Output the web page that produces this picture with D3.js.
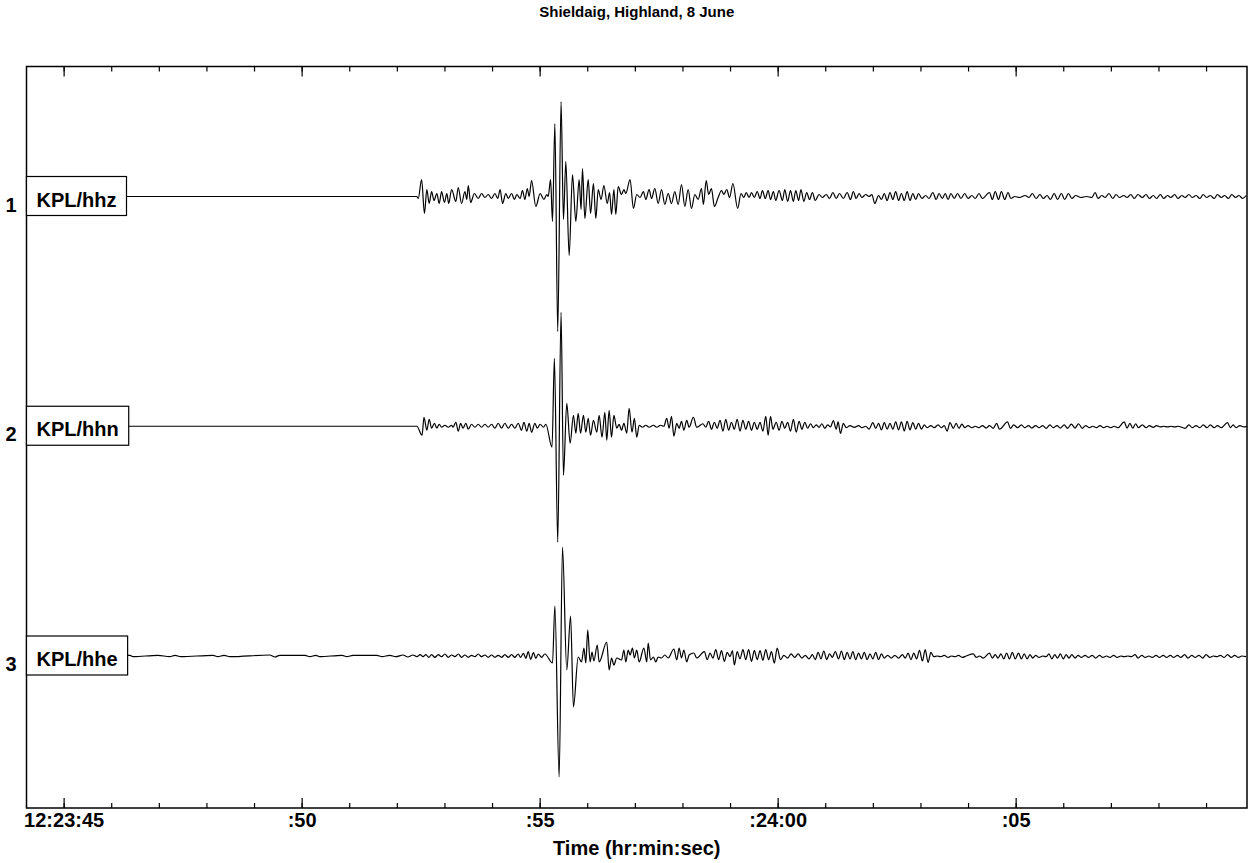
<!DOCTYPE html>
<html>
<head>
<meta charset="utf-8">
<script src="https://cdn.jsdelivr.net/npm/d3@7"></script>
<style>
  body { margin: 0; background: #fff; }
  text { font-family: "Liberation Sans", Arial, sans-serif; font-weight: bold; fill: #000; }
</style>
</head>
<body>
<div id="chart"></div>
<script>
// labels
var title = 'Shieldaig, Highland, 8 June';
var xLabel = 'Time (hr:min:sec)';
var channels = ['KPL/hhz', 'KPL/hhn', 'KPL/hhe'];
var traceNums = ['1', '2', '3'];

// window, seconds after 12:23:52
var tStart = -7.78, tEnd = 17.86;

// traces: [seconds after 12:23:52, relative amplitude], peaks
var hhz = [[-7.7,0],[0.42,0],[0.45,-2],[0.52,17],[0.58,-17],[0.63,7],[0.68,-7],[0.73,5],[0.78,-4],[0.84,3],[0.89,-7],[0.94,5],[1.00,-6],[1.05,3],[1.09,-7],[1.15,7],[1.24,-5],[1.29,9],[1.36,-7],[1.43,5],[1.47,-3],[1.50,11],[1.55,-6],[1.63,3],[1.71,-2],[1.78,3],[1.85,-1],[1.92,2],[1.99,-2],[2.06,3],[2.12,-2],[2.17,7],[2.22,-7],[2.29,3],[2.34,-2],[2.41,3],[2.47,-3],[2.52,2],[2.59,-2],[2.64,6],[2.69,-3],[2.74,8],[2.78,0],[2.83,16],[2.92,-10],[3.01,3],[3.09,-3],[3.15,2],[3.18,0],[3.23,17],[3.27,-25],[3.32,73],[3.38,-135],[3.45,95],[3.50,-23],[3.55,35],[3.62,-59],[3.69,22],[3.76,-25],[3.83,17],[3.87,-13],[3.90,28],[3.95,-22],[4.02,17],[4.07,-17],[4.13,13],[4.18,-22],[4.23,7],[4.29,-3],[4.35,11],[4.42,-7],[4.47,4],[4.51,-18],[4.56,7],[4.60,-18],[4.65,10],[4.72,2],[4.77,7],[4.81,3],[4.90,17],[4.97,-12],[5.04,2],[5.11,-1],[5.18,5],[5.23,-3],[5.30,7],[5.35,-2],[5.42,8],[5.49,-7],[5.56,7],[5.63,-8],[5.70,3],[5.77,-7],[5.84,5],[5.91,-8],[5.98,12],[6.05,-10],[6.12,7],[6.19,-12],[6.26,2],[6.33,-3],[6.40,8],[6.44,-8],[6.50,16],[6.55,2],[6.61,8],[6.67,-10],[6.75,-1],[6.82,6],[6.87,2],[6.93,7],[6.99,-1],[7.06,13],[7.16,-12],[7.23,3],[7.29,-1],[7.34,4],[7.40,-1],[7.45,4],[7.51,-1],[7.57,5],[7.63,-2],[7.68,6],[7.74,-2],[7.80,6],[7.85,-3],[7.91,5],[7.96,-4],[8.03,6],[8.10,-4],[8.15,7],[8.21,-5],[8.27,6],[8.33,-5],[8.38,6],[8.44,-4],[8.49,7],[8.55,-5],[8.61,4],[8.67,-3],[8.73,4],[8.79,-4],[8.87,2],[8.94,-1],[9.02,2],[9.09,-2],[9.16,4],[9.23,-2],[9.30,3],[9.38,-2],[9.46,4],[9.53,-3],[9.59,5],[9.65,-2],[9.71,3],[9.77,-1],[9.85,2],[9.92,0],[9.98,2],[10.04,-7],[10.12,1],[10.18,-3],[10.24,3],[10.30,-4],[10.36,4],[10.42,-3],[10.48,5],[10.54,-4],[10.60,3],[10.66,-4],[10.72,5],[10.78,-4],[10.84,3],[10.90,-3],[10.96,3],[11.03,-2],[11.11,1],[11.18,-2],[11.26,4],[11.33,-3],[11.39,3],[11.46,-2],[11.52,3],[11.58,-3],[11.64,3],[11.71,-2],[11.78,3],[11.85,-2],[11.93,3],[12.00,-2],[12.08,1],[12.15,-2],[12.23,3],[12.30,-2],[12.45,4],[12.51,-3],[12.57,5],[12.64,-3],[12.70,5],[12.77,-3],[12.84,4],[12.90,-2],[12.98,0],[13.08,-1],[13.20,1],[13.28,-1],[13.35,3],[13.43,-2],[13.51,2],[13.58,-2],[13.66,1],[13.73,-3],[13.81,3],[13.88,-3],[13.96,3],[14.03,-3],[14.11,3],[14.18,-2],[14.26,1],[14.37,-1],[14.49,0],[14.60,-1],[14.67,4],[14.73,-2],[14.81,1],[14.88,-1],[14.96,3],[15.04,-2],[15.11,2],[15.18,-1],[15.27,1],[15.34,-1],[15.42,2],[15.49,-2],[15.57,2],[15.66,-1],[15.74,2],[15.81,-2],[15.89,1],[15.96,-2],[16.04,2],[16.11,-2],[16.19,1],[16.26,-1],[16.34,2],[16.41,-2],[16.49,1],[16.56,-1],[16.64,2],[16.71,-1],[16.79,1],[16.87,-2],[16.94,2],[17.01,-1],[17.09,1],[17.17,-2],[17.24,2],[17.32,-1],[17.39,1],[17.47,-2],[17.54,2],[17.62,-1],[17.69,1],[17.77,-2],[17.84,1]];

var hhn = [[-7.7,0],[0.42,0],[0.53,-9],[0.57,9],[0.63,-4],[0.68,7],[0.73,-2],[0.79,3],[0.84,-2],[0.89,2],[0.94,-1],[1.01,1],[1.08,-1],[1.15,1],[1.18,-1],[1.24,4],[1.29,-5],[1.34,3],[1.39,-2],[1.45,3],[1.50,-3],[1.57,2],[1.64,-1],[1.71,2],[1.78,-1],[1.85,2],[1.92,-1],[1.99,2],[2.06,-2],[2.13,3],[2.20,-2],[2.27,3],[2.34,-2],[2.41,2],[2.48,-2],[2.55,3],[2.62,-4],[2.67,4],[2.73,-5],[2.78,3],[2.83,-6],[2.90,3],[2.95,-2],[3.01,2],[3.08,-1],[3.13,2],[3.26,-21],[3.31,68],[3.38,-116],[3.45,114],[3.50,-49],[3.57,23],[3.64,-17],[3.71,11],[3.76,-7],[3.81,13],[3.86,-7],[3.92,11],[3.97,-6],[4.02,8],[4.07,-9],[4.13,6],[4.20,-6],[4.25,11],[4.31,-11],[4.37,14],[4.41,-14],[4.46,16],[4.51,-11],[4.56,11],[4.62,-2],[4.67,2],[4.72,-4],[4.77,3],[4.83,-7],[4.88,18],[4.94,-6],[4.99,8],[5.04,-11],[5.09,1],[5.16,-1],[5.23,1],[5.30,-1],[5.39,1],[5.46,-1],[5.54,1],[5.61,0],[5.67,8],[5.72,-2],[5.77,10],[5.82,-10],[5.88,3],[5.93,-2],[5.98,5],[6.03,-4],[6.09,6],[6.14,-1],[6.23,9],[6.30,-1],[6.43,2.5],[6.49,-1],[6.55,5],[6.61,-3],[6.67,4],[6.73,-2],[6.79,6],[6.85,-5],[6.91,7],[6.97,-4],[7.03,4],[7.09,-3],[7.15,7],[7.21,-5],[7.27,6],[7.33,-3],[7.39,5],[7.45,-4],[7.51,4],[7.57,-3],[7.63,4],[7.69,-5],[7.75,10],[7.80,-9],[7.85,10],[7.90,-3],[7.97,4],[8.03,-4],[8.09,5],[8.15,-2],[8.21,4],[8.27,-5],[8.33,7],[8.39,-6],[8.45,5],[8.51,-3],[8.57,4],[8.63,-2],[8.69,2.5],[8.75,-1.4],[8.81,1.4],[8.87,-1.1],[8.93,2.5],[8.99,-2.1],[9.05,1.4],[9.11,-0.7],[9.17,5.7],[9.23,-2.9],[9.27,4.3],[9.32,-7.2],[9.38,2.9],[9.44,-1.4],[9.52,0.7],[9.61,-1.1],[9.70,0.7],[9.77,-1.4],[9.85,0],[9.92,-2.9],[10.00,3.6],[10.06,-2.1],[10.12,2.9],[10.18,-3.6],[10.24,3.6],[10.30,-2.9],[10.36,2.9],[10.42,-2.9],[10.48,4.3],[10.54,-3.6],[10.60,4.3],[10.66,-4.7],[10.72,5],[10.78,-3.6],[10.84,3.6],[10.90,-2.9],[10.96,2.9],[11.02,-2.9],[11.08,1.4],[11.14,-1.4],[11.22,0.7],[11.29,-1.4],[11.37,1.4],[11.44,-1.4],[11.50,0.7],[11.56,-5],[11.62,3.6],[11.69,-2.1],[11.75,2.9],[11.81,-2.1],[11.87,2.1],[11.93,-1.4],[12.00,0.7],[12.08,-1.4],[12.15,0],[12.23,-1.4],[12.30,0.7],[12.38,-1.8],[12.45,0.7],[12.53,-2.1],[12.60,2.9],[12.66,-2.9],[12.83,4.3],[12.89,-2.1],[12.96,1.4],[13.04,-1.4],[13.12,1.4],[13.19,-1.4],[13.27,0.7],[13.34,-1.8],[13.42,0.7],[13.49,-1.4],[13.57,0.7],[13.64,-2.1],[13.72,1.4],[13.79,-1.4],[13.87,0.7],[13.94,-1.8],[14.02,1.4],[14.09,-2.1],[14.17,2.1],[14.25,-1.8],[14.32,2.5],[14.40,-2.1],[14.47,0.7],[14.55,-1.4],[14.62,0],[14.70,-1.4],[14.77,0.7],[14.85,-1.4],[14.92,0],[15.00,-1.4],[15.07,0],[15.15,-1.4],[15.28,4.3],[15.34,-1.8],[15.40,2.9],[15.46,-1.8],[15.52,2.5],[15.58,-1.4],[15.66,1.4],[15.74,-1.4],[15.81,0.7],[15.89,-1.1],[15.96,0.7],[16.04,-0.7],[16.11,0],[16.19,-0.7],[16.26,0],[16.34,-0.7],[16.41,0],[16.56,-2.1],[16.64,1.4],[16.71,-1.4],[16.79,0.7],[16.87,-1.4],[16.94,1.4],[17.02,-1.4],[17.09,1.4],[17.17,-1.4],[17.24,0.7],[17.32,-1.4],[17.45,3.6],[17.51,-1.4],[17.57,1.4],[17.63,-1.4],[17.71,0.7],[17.79,-0.7],[17.86,0]];

var hhe = [[-7.7,0],[-5.61,0.7],[-5.54,-0.7],[-5.02,0.7],[-4.77,-0.7],[-4.66,0.7],[-4.54,-0.7],[-3.86,0.7],[-3.76,-0.7],[-3.63,0.7],[-3.51,-0.7],[-2.67,1],[-2.56,-1],[-2.46,0.7],[-1.93,0.7],[-1.83,-0.7],[-1.70,0.7],[-1.62,-0.7],[-1.15,0.7],[-1.05,-0.7],[-0.92,0.7],[-0.42,0.7],[-0.31,-0.7],[-0.15,0.7],[-0.02,-0.7],[0.13,1],[0.23,-1],[0.34,1],[0.42,-0.7],[0.49,1.3],[0.55,-0.7],[0.61,1.3],[0.67,-1.3],[0.73,1.3],[0.80,-1.3],[0.87,1.3],[0.94,-0.7],[1.01,2],[1.08,-1.3],[1.15,1],[1.22,-0.7],[1.29,2],[1.36,-1.3],[1.43,1],[1.50,-1.3],[1.57,0.7],[1.64,-0.7],[1.71,2],[1.78,-0.7],[1.85,1],[1.92,-1.3],[1.99,1],[2.06,-1.3],[2.13,0.7],[2.20,-1.3],[2.27,1.3],[2.34,-1.3],[2.41,1.3],[2.48,-1.3],[2.55,2],[2.60,-1.3],[2.66,2.7],[2.71,-2.3],[2.76,4.3],[2.81,-3.3],[2.87,3.3],[2.92,-2.3],[2.97,2],[3.04,-1.3],[3.11,2],[3.27,-7],[3.32,50],[3.41,-121],[3.48,109],[3.57,-14],[3.65,40],[3.71,-51],[3.81,-1],[3.88,-6],[3.93,8],[3.97,-7],[4.01,26],[4.06,-6],[4.10,4],[4.14,-5],[4.21,11],[4.25,-6],[4.41,14],[4.46,-14],[4.51,-2],[4.56,-9],[4.62,-2],[4.72,-4],[4.77,6],[4.81,-6],[4.86,6],[4.90,1],[4.95,8],[4.99,-2],[5.04,6],[5.09,-6],[5.19,8],[5.25,-6],[5.28,13],[5.33,-4],[5.39,-1],[5.44,-6],[5.49,-1],[5.56,-2],[5.63,1],[5.70,-2],[5.82,7],[5.88,-4],[5.93,8],[5.98,-2],[6.03,6],[6.09,-6],[6.14,1],[6.24,3],[6.30,-2],[6.46,4.3],[6.52,-3.6],[6.58,2.9],[6.64,-2.1],[6.70,6.4],[6.76,-3.6],[6.82,5.4],[6.88,-5.4],[6.94,3.6],[7.00,-0.7],[7.05,5.4],[7.09,-9],[7.15,4.3],[7.21,-2.9],[7.27,6.4],[7.33,-3.6],[7.39,6.4],[7.45,-5.4],[7.51,5.7],[7.57,-3.6],[7.63,5.4],[7.69,-4.3],[7.75,6.4],[7.81,-3.6],[7.87,4.3],[7.93,-7.2],[7.99,7.9],[8.06,-3.6],[8.13,0.7],[8.21,-2.1],[8.28,2.1],[8.36,-1.4],[8.43,2.1],[8.51,-2.1],[8.58,0.7],[8.66,-2.9],[8.73,1.4],[8.79,-3.6],[8.85,3.6],[8.91,-2.9],[8.97,5],[9.03,-3.6],[9.09,2.1],[9.15,-1.4],[9.21,4.3],[9.28,-2.9],[9.34,5],[9.40,-3.6],[9.46,3.6],[9.52,-2.9],[9.58,4.3],[9.64,-3.6],[9.70,2.9],[9.76,-2.9],[9.82,3.6],[9.88,-3.6],[9.94,2.1],[10.00,-2.9],[10.06,3.6],[10.12,-3.6],[10.18,2.1],[10.24,-2.1],[10.31,0.7],[10.39,-2.1],[10.46,0.7],[10.54,-2.1],[10.62,1.4],[10.68,-2.1],[10.74,2.9],[10.80,-3.6],[10.86,2.9],[10.92,-2.9],[10.98,5.7],[11.04,-5],[11.10,6.4],[11.16,-6.4],[11.22,3.6],[11.28,-0.7],[11.35,0],[11.43,-0.7],[11.50,0.7],[11.58,-1.4],[11.65,0],[11.73,-0.7],[11.80,0.7],[11.88,-1.4],[11.96,0],[12.11,2.1],[12.17,-1.4],[12.24,0],[12.32,-2.1],[12.45,2.9],[12.51,-2.1],[12.57,1.4],[12.63,-2.1],[12.69,2.1],[12.75,-2.9],[12.81,2.9],[12.87,-2.9],[12.93,3.6],[12.99,-2.9],[13.06,2.9],[13.12,-2.9],[13.18,2.1],[13.24,-2.9],[13.30,1.4],[13.36,-2.1],[13.42,0.7],[13.49,-1.4],[13.57,0],[13.64,-0.7],[13.70,2.1],[13.76,-2.9],[13.82,1.4],[13.88,-2.1],[13.94,2.1],[14.00,-2.9],[14.06,1.4],[14.12,-2.1],[14.18,1.4],[14.25,-2.1],[14.31,0.7],[14.38,-1.4],[14.46,0.7],[14.53,-1.4],[14.61,0.7],[14.68,-2.1],[14.76,0.7],[14.83,-1.4],[14.91,0],[14.98,-1.4],[15.06,0.7],[15.13,-1.4],[15.21,0],[15.28,-0.7],[15.36,0],[15.43,-0.7],[15.51,1.4],[15.57,-2.1],[15.65,0.7],[15.72,-1.4],[15.80,0],[15.87,-1.4],[15.95,0.7],[16.02,-1.4],[16.10,0.7],[16.17,-1.4],[16.25,0.7],[16.32,-1.4],[16.40,0.7],[16.47,-1.4],[16.55,1.4],[16.62,-2.1],[16.70,0.7],[16.77,-1.4],[16.85,0.7],[16.93,-2.1],[17.00,1.4],[17.08,-1.4],[17.15,0],[17.23,-0.7],[17.30,0.7],[17.38,-1.4],[17.45,1.4],[17.53,-1.4],[17.60,0.7],[17.68,-1.4],[17.75,0],[17.84,-0.7]];

var traces = [hhz, hhn, hhe];

// layout
var width = 1251, height = 863;
var plot = { left: 26.5, right: 1247, top: 66.5, bottom: 808 };

var t0 = new Date(2000, 5, 8, 12, 23, 52);
function toDate(s) { return new Date(t0.getTime() + s * 1000); }

var svg = d3.select('#chart').append('svg')
  .attr('width', width)
  .attr('height', height);

var x = d3.scaleTime()
  .domain([toDate(tStart), toDate(tEnd)])
  .range([plot.left, plot.right]);

// one baseline per trace
var band = d3.scalePoint()
  .domain(traceNums)
  .range([196.5, 656]);

svg.append('defs').append('clipPath')
  .attr('id', 'plot-clip')
  .append('rect')
  .attr('x', plot.left)
  .attr('y', plot.top)
  .attr('width', plot.right - plot.left)
  .attr('height', plot.bottom - plot.top);

// traces
var traceG = svg.append('g').attr('clip-path', 'url(#plot-clip)');

traces.forEach(function(samples, i){
  var base = band(traceNums[i]);
  var y = d3.scaleLinear()
    .domain([-140, 140])
    .range([base + 140, base - 140]);

  var line = d3.line()
    .curve(d3.curveMonotoneX)
    .x(function(d){ return x(toDate(d[0])); })
    .y(function(d){ return y(d[1]); });

  traceG.append('path')
    .datum(samples)
    .attr('d', line)
    .attr('fill', 'none')
    .attr('stroke', '#000')
    .attr('stroke-width', 1.2)
    .attr('stroke-linejoin', 'round');
});

// axes, ticks inside the frame
var minorTicks = d3.timeSecond.every(1);
var majorTicks = d3.timeSecond.every(5);

function fmtTick(d, i) {
  if (i === 0) return d3.timeFormat('%H:%M:%S')(d);
  if (d.getSeconds() === 0) return d3.timeFormat(':%M:%S')(d);
  return d3.timeFormat(':%S')(d);
}

svg.append('g')
  .attr('transform', 'translate(0,' + plot.bottom + ')')
  .call(d3.axisBottom(x).ticks(minorTicks).tickSize(-5).tickFormat(''))
  .call(function(g){ g.select('.domain').remove(); });

svg.append('g')
  .attr('class', 'x-major')
  .attr('transform', 'translate(0,' + plot.bottom + ')')
  .call(d3.axisBottom(x).ticks(majorTicks).tickSize(-10).tickPadding(5).tickFormat(fmtTick))
  .call(function(g){
    g.select('.domain').remove();
    g.selectAll('text')
      .style('font-size', '20px')
      .style('font-family', '"Liberation Sans", Arial, sans-serif')
      .style('font-weight', 'bold')
      .attr('fill', '#000');
  });

svg.append('g')
  .attr('transform', 'translate(0,' + plot.top + ')')
  .call(d3.axisTop(x).ticks(minorTicks).tickSize(-5).tickFormat(''))
  .call(function(g){ g.select('.domain').remove(); });

svg.append('g')
  .attr('transform', 'translate(0,' + plot.top + ')')
  .call(d3.axisTop(x).ticks(majorTicks).tickSize(-10).tickFormat(''))
  .call(function(g){ g.select('.domain').remove(); });

svg.selectAll('.tick line').attr('stroke', '#000').attr('stroke-width', 1.2);

// frame
svg.append('rect')
  .attr('x', plot.left)
  .attr('y', plot.top)
  .attr('width', plot.right - plot.left)
  .attr('height', plot.bottom - plot.top)
  .attr('fill', 'none')
  .attr('stroke', '#000')
  .attr('stroke-width', 1.5);

// channel boxes and numbers
channels.forEach(function(name, i){
  var base = band(traceNums[i]);
  var g = svg.append('g');
  var rect = g.append('rect')
    .attr('x', plot.left)
    .attr('y', base - 20)
    .attr('height', 39)
    .attr('fill', '#fff')
    .attr('stroke', '#000')
    .attr('stroke-width', 1.2);
  var txt = g.append('text')
    .attr('x', plot.left + 10)
    .attr('y', base + 10)
    .style('font-size', '20px')
    .text(name);
  rect.attr('width', txt.node().getComputedTextLength() + 20);

  svg.append('text')
    .attr('x', 11)
    .attr('y', base + 15)
    .attr('text-anchor', 'middle')
    .style('font-size', '20px')
    .text(traceNums[i]);
});

// title and axis label
svg.append('text')
  .attr('x', (plot.left + plot.right) / 2)
  .attr('y', 17)
  .attr('text-anchor', 'middle')
  .style('font-size', '15px')
  .text(title);

svg.append('text')
  .attr('x', (plot.left + plot.right) / 2)
  .attr('y', 855)
  .attr('text-anchor', 'middle')
  .style('font-size', '20px')
  .text(xLabel);
</script>
</body>
</html>
